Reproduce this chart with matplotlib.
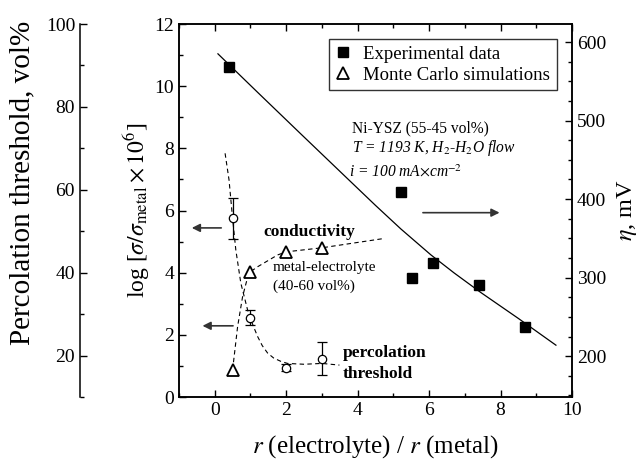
import matplotlib
matplotlib.use('Agg')
import matplotlib.pyplot as plt
from matplotlib.ticker import MultipleLocator

plt.rcParams['font.family'] = ['Liberation Serif', 'DejaVu Serif']
plt.rcParams['mathtext.fontset'] = 'stix'

# experimental overpotential, Ni-YSZ
exp_r = [0.40, 5.21, 5.51, 6.10, 7.40, 8.69]
exp_eta = [568, 409, 300, 319, 291, 237]
fit_r = [0.09, 1.20, 2.41, 3.81, 4.50, 5.21, 6.05, 6.70, 7.45, 8.50, 9.55]
fit_eta = [585, 536, 483, 422, 392, 362, 329, 306, 281, 248, 214]

# Monte Carlo conductivity (log scale)
mc_r = [0.5, 1.0, 2.0, 3.0]
mc_cond = [0.87, 4.03, 4.67, 4.78]
cond_r = [0.50, 0.64, 0.78, 0.92, 1.0, 1.2, 1.76, 2.0, 3.0, 4.74]
cond_y = [0.87, 2.26, 3.23, 3.85, 4.03, 4.19, 4.57, 4.67, 4.80, 5.10]

# percolation threshold, vol%
perc_r = [0.5, 1.0, 2.0, 3.0]
perc_v = [53.1, 29.1, 17.1, 19.2]
perc_err = [5.0, 1.8, 0.9, 4.0]
pcurve_r = [0.29, 0.40, 0.50, 0.59, 0.73, 0.92, 0.99, 1.10, 1.20, 1.33, 1.48,
            1.65, 1.85, 2.04, 2.50, 3.00, 3.49]
pcurve_v = [68.8, 62.4, 53.1, 45.5, 37.5, 31.0, 29.1, 26.7, 24.6, 22.4, 20.6,
            19.4, 18.6, 18.1, 17.9, 18.1, 17.7]

fig = plt.figure(figsize=(6.41, 4.61), dpi=100)
ax = fig.add_axes([179/641, 64/461, 393/641, 373/461])
ax_eta = ax.twinx()
ax_perc = ax.twinx()

ax.set_xlim(-1, 10)
ax.set_ylim(0, 12)
ax_eta.set_ylim(148, 623)
ax_perc.set_ylim(10, 100)

# outer left axis for the percolation threshold
ax_perc.spines['left'].set_position(('axes', -0.252))
for s in ['right', 'top', 'bottom']:
    ax_perc.spines[s].set_visible(False)
ax_perc.spines['left'].set_visible(True)
ax_perc.yaxis.set_ticks_position('left')
ax_perc.yaxis.set_label_position('left')

for a in (ax, ax_eta, ax_perc):
    for s in a.spines.values():
        s.set_linewidth(1.1)
    a.tick_params(which='both', direction='in', labelsize=14, width=1.0)
    a.tick_params(which='major', length=5)
    a.tick_params(which='minor', length=3)
ax.tick_params(which='both', top=True, right=False)

ax.xaxis.set_major_locator(MultipleLocator(2))
ax.xaxis.set_minor_locator(MultipleLocator(1))
ax.yaxis.set_major_locator(MultipleLocator(2))
ax.yaxis.set_minor_locator(MultipleLocator(1))
ax_eta.yaxis.set_major_locator(MultipleLocator(100))
ax_eta.yaxis.set_minor_locator(MultipleLocator(25))
ax_perc.yaxis.set_major_locator(MultipleLocator(20))
ax_perc.yaxis.set_minor_locator(MultipleLocator(10))

ax.set_xlabel(r'$r$ (electrolyte) / $r$ (metal)', fontsize=18, labelpad=10)
ax.set_ylabel(r'log [$\sigma/\sigma_{\mathrm{metal}}\times10^{6}$]', fontsize=17, labelpad=2)
ax_eta.set_ylabel(r'$\eta$, mV', fontsize=17.5, labelpad=6)
ax_perc.set_ylabel('Percolation threshold, vol%', fontsize=21)
ax_perc.yaxis.set_label_coords(-0.366, 0.574)

# overpotential data and fit
ax_eta.plot(fit_r, fit_eta, color='black', lw=0.9)
sq, = ax_eta.plot(exp_r, exp_eta, 's', color='black', ms=7.5, ls='none')

# conductivity from simulations
ax.plot(cond_r, cond_y, color='black', lw=0.8, ls=(0, (4, 3)))
tri, = ax.plot(mc_r, mc_cond, '^', mfc='white', mec='black', mew=1.3, ms=9, ls='none')

# percolation threshold
ax_perc.plot(pcurve_r, pcurve_v, color='black', lw=0.8, ls=(0, (4, 3)))
ax_perc.errorbar(perc_r, perc_v, yerr=perc_err, fmt='o', mfc='white', mec='black',
                 mew=0.9, ms=6, ecolor='black', elinewidth=0.9, capsize=3.5, capthick=0.9)

ax.legend([sq, tri], ['Experimental data', 'Monte Carlo simulations'],
          loc='upper right', bbox_to_anchor=(0.961, 0.959), borderaxespad=0,
          fontsize=13.5, frameon=True, fancybox=False, edgecolor='black',
          handlelength=0.8, handletextpad=0.7, borderpad=0.35, labelspacing=0.2)
ax.get_legend().get_frame().set_linewidth(1.0)
ax.get_legend().set_zorder(10)

# arrows pointing to the relevant axes
arr = dict(arrowstyle='-|>', color='#333333', lw=1.2, mutation_scale=12)
ax.annotate('', xy=(-0.72, 5.44), xytext=(0.26, 5.44), arrowprops=arr)
ax.annotate('', xy=(-0.42, 2.29), xytext=(0.59, 2.29), arrowprops=arr)
ax.annotate('', xy=(8.05, 5.93), xytext=(5.75, 5.93), arrowprops=arr)

ax.text(3.83, 8.64, 'Ni-YSZ (55-45 vol%)', fontsize=11.2, va='center')
ax.text(3.83, 8.02, r'T = 1193 K, H$_2$-H$_2$O flow', fontsize=11.2, style='italic', va='center')
ax.text(3.76, 7.21, r'i = 100 mA$\times$cm$^{-2}$', fontsize=11.2, style='italic', va='center')

ax.text(1.37, 5.32, 'conductivity', fontsize=12.5, weight='bold', va='center')
ax.text(1.62, 4.17, 'metal-electrolyte', fontsize=11, va='center')
ax.text(1.62, 3.55, '(40-60 vol%)', fontsize=11, va='center')
ax.text(3.59, 1.42, 'percolation', fontsize=12.5, weight='bold', va='center')
ax.text(3.59, 0.74, 'threshold', fontsize=12.5, weight='bold', va='center')

fig.savefig('out.png', dpi=100)
